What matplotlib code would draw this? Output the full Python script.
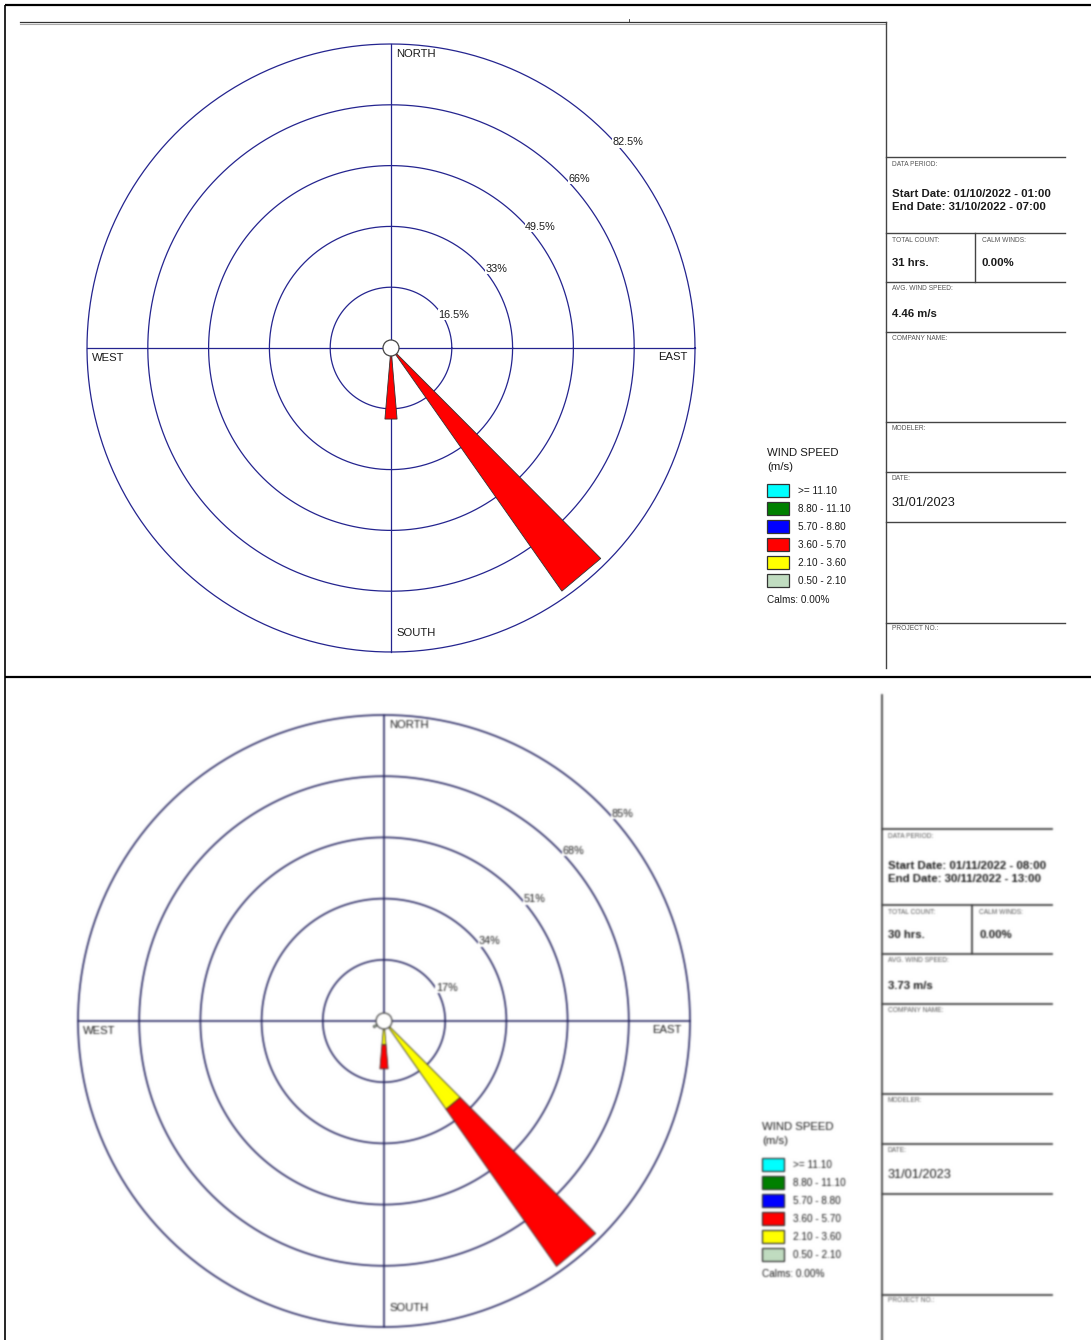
import matplotlib.pyplot as plt
from matplotlib.patches import Rectangle, Circle, Polygon
import numpy as np

plt.rcParams['font.family'] = ['Liberation Sans', 'DejaVu Sans']

W, H = 1091, 1340

# wind speed classes (m/s), highest first as in the legend
speed_labels = ['>= 11.10', '8.80 - 11.10', '5.70 - 8.80', '3.60 - 5.70', '2.10 - 3.60', '0.50 - 2.10']
speed_colors = ['#00FFFF', '#008000', '#0000FF', '#FF0000', '#FFFF00', '#C0DCC0']

# October 2022 - hours per direction (36 sectors, 10 deg each)
oct_dirs = [140, 180]
oct_050_210 = [0, 0]
oct_210_360 = [0, 0]
oct_360_570 = [25, 6]
oct_total = 31
oct_rings = [16.5, 33, 49.5, 66, 82.5]
oct_period = ['Start Date: 01/10/2022 - 01:00', 'End Date: 31/10/2022 - 07:00']
oct_count = '31 hrs.'
oct_calm = '0.00%'
oct_avg = '4.46 m/s'

# November 2022
nov_dirs = [140, 180, 240]
nov_050_210 = [0, 0, 1]
nov_210_360 = [9, 2, 0]
nov_360_570 = [16, 2, 0]
nov_total = 30
nov_rings = [17, 34, 51, 68, 85]
nov_period = ['Start Date: 01/11/2022 - 08:00', 'End Date: 30/11/2022 - 13:00']
nov_count = '30 hrs.'
nov_calm = '0.00%'
nov_avg = '3.73 m/s'

report_date = '31/01/2023'

PX = 0.72  # points per pixel at 100 dpi

fig = plt.figure(figsize=(W / 100, H / 100), dpi=100)
fig.patch.set_facecolor('white')

ov = fig.add_axes([0, 0, 1, 1])
ov.set_xlim(0, W)
ov.set_ylim(H, 0)
ov.axis('off')

# outer table frame
ov.plot([5, W], [5, 5], color='black', lw=1.6, solid_capstyle='butt')
ov.plot([5, 5], [5, H], color='black', lw=1.2, solid_capstyle='butt')
ov.plot([5, W], [677, 677], color='black', lw=1.6, solid_capstyle='butt')
# header rule of the first page
ov.plot([20, 886], [22, 22], color='#333333', lw=0.9)
ov.plot([20, 886], [23.5, 23.5], color='#aaaaaa', lw=0.8)
ov.plot([629, 629], [19, 22], color='#333333', lw=0.6)


def info_panel(x0, xr, xd, dy, ytop, ybot, period, count, calm, avg, lw=1.0):
    ov.plot([x0, x0], [ytop, ybot], color='#444444', lw=lw)
    for y in [157, 233, 282, 332, 422, 472, 522, 623]:
        ov.plot([x0, xr], [y + dy, y + dy], color='#444444', lw=lw)
    ov.plot([xd, xd], [233 + dy, 282 + dy], color='#444444', lw=lw)
    xt = x0 + 6
    xc = xd + 7
    small = dict(fontsize=4.8, color='#555555', va='center', ha='left')
    bold = dict(fontsize=8.2, color='#1a1a1a', va='center', ha='left', fontweight='bold')
    ov.text(xt, 164 + dy, 'DATA PERIOD:', **small)
    ov.text(xt, 194 + dy, period[0], **bold)
    ov.text(xt, 207 + dy, period[1], **bold)
    ov.text(xt, 240 + dy, 'TOTAL COUNT:', **small)
    ov.text(xc, 240 + dy, 'CALM WINDS:', **small)
    ov.text(xt, 263 + dy, count, **bold)
    ov.text(xc, 263 + dy, calm, **bold)
    ov.text(xt, 289 + dy, 'AVG. WIND SPEED:', **small)
    ov.text(xt, 314 + dy, avg, **bold)
    ov.text(xt, 339 + dy, 'COMPANY NAME:', **small)
    ov.text(xt, 429 + dy, 'MODELER:', **small)
    ov.text(xt, 479 + dy, 'DATE:', **small)
    ov.text(xt, 503 + dy, report_date, fontsize=9.2, color='#1a1a1a', va='center', ha='left')
    ov.text(xt, 629 + dy, 'PROJECT NO.:', **small)


def legend(x0, y0, calm):
    ov.text(x0, y0, 'WIND SPEED', fontsize=8.2, color='#1a1a1a', va='center', ha='left')
    ov.text(x0, y0 + 14, '(m/s)', fontsize=8.2, color='#1a1a1a', va='center', ha='left')
    for i, (lab, col) in enumerate(zip(speed_labels, speed_colors)):
        yb = y0 + 31 + i * 18
        ov.add_patch(Rectangle((x0, yb), 22, 13, facecolor=col, edgecolor='#333333', lw=0.9))
        ov.text(x0 + 31, yb + 6.5, lab, fontsize=7.2, color='#1a1a1a', va='center', ha='left')
    ov.text(x0, y0 + 147, 'Calms: ' + calm, fontsize=7.2, color='#1a1a1a', va='center', ha='left')


def rose(cx, cy, rpx, rings, dirs, classes, total, lw=0.9, grid='#24248f'):
    rmax = rings[-1]
    m = 1.06
    ax = fig.add_axes([(cx - rpx * m) / W, 1 - (cy + rpx * m) / H, 2 * rpx * m / W, 2 * rpx * m / H])
    ax.set_xlim(-rmax * m, rmax * m)
    ax.set_ylim(-rmax * m, rmax * m)
    ax.axis('off')
    ax.patch.set_alpha(0)

    th = np.linspace(0, 2 * np.pi, 400)
    for r in rings:
        ax.plot(r * np.cos(th), r * np.sin(th), color=grid, lw=lw, zorder=1)
    ax.plot([-rmax, rmax], [0, 0], color=grid, lw=lw, zorder=1)
    ax.plot([0, 0], [-rmax, rmax], color=grid, lw=lw, zorder=1)

    # ring labels sit on the rings in the NE quadrant
    ang = [28, 37, 39, 42, 41]
    for r, a in zip(rings, ang):
        t = np.radians(a)
        lab = ('%g' % r) + '%'
        ax.annotate(lab, xy=(r * np.cos(t), r * np.sin(t)),
                    xytext=(10 * PX * np.cos(t), 10 * PX * np.sin(t)), textcoords='offset points',
                    ha='center', va='center', fontsize=7.8, color='#1a1a1a', zorder=3,
                    bbox=dict(boxstyle='square,pad=0.05', fc='white', ec='none'))

    lab = dict(fontsize=8.1, color='#1a1a1a', textcoords='offset points', zorder=3)
    ax.annotate('NORTH', xy=(0, rmax), xytext=(5 * PX, -10 * PX), ha='left', va='center', **lab)
    ax.annotate('SOUTH', xy=(0, -rmax), xytext=(5 * PX, 19 * PX), ha='left', va='center', **lab)
    ax.annotate('WEST', xy=(-rmax, 0), xytext=(5 * PX, -10 * PX), ha='left', va='center', **lab)
    ax.annotate('EAST', xy=(rmax, 0), xytext=(-8 * PX, -9 * PX), ha='right', va='center', **lab)

    # petals, stacked from the lowest speed class outwards
    hw = np.radians(4.9)
    cols = [speed_colors[5], speed_colors[4], speed_colors[3]]
    for k, d in enumerate(dirs):
        b = np.radians(d)
        r0 = 0.0
        for hours, col in zip(classes, cols):
            p = hours[k] / total * 100
            if p <= 0:
                continue
            r1 = r0 + p
            pts = [(r0 * np.sin(b - hw), r0 * np.cos(b - hw)),
                   (r0 * np.sin(b + hw), r0 * np.cos(b + hw)),
                   (r1 * np.sin(b + hw), r1 * np.cos(b + hw)),
                   (r1 * np.sin(b - hw), r1 * np.cos(b - hw))]
            ax.add_patch(Polygon(pts, closed=True, facecolor=col, edgecolor='#333333', lw=0.6, zorder=4))
            r0 = r1

    ax.add_patch(Circle((0, 0), 8 / rpx * rmax, facecolor='white', edgecolor='#444444', lw=0.9, zorder=5))
    return ax


rose(391, 348, 304, oct_rings, oct_dirs, [oct_050_210, oct_210_360, oct_360_570], oct_total)
rose(384, 1021, 306, nov_rings, nov_dirs, [nov_050_210, nov_210_360, nov_360_570], nov_total,
     lw=1.2, grid='#2c2c66')

legend(767, 453, oct_calm)
legend(762, 1127, nov_calm)

info_panel(886, 1065, 975, 0, 22, 668, oct_period, oct_count, oct_calm, oct_avg)
info_panel(882, 1052, 972, 672, 695, H, nov_period, nov_count, nov_calm, nov_avg, lw=1.3)

# the second page is a low-resolution scan: soften it with a small gaussian blur
fig.canvas.draw()
img = np.asarray(fig.canvas.buffer_rgba())[:, :, :3].astype(float) / 255
x = np.arange(-3, 4)
k = np.exp(-x ** 2 / (2 * 0.9 ** 2))
k /= k.sum()
part = img[681:, 9:].copy()
pad = np.pad(part, ((3, 3), (3, 3), (0, 0)), mode='edge')
tmp = sum(k[i] * pad[:, i:i + part.shape[1]] for i in range(7))
part = sum(k[i] * tmp[i:i + part.shape[0]] for i in range(7))
img[681:, 9:] = part
plt.imsave('out.png', np.clip(img, 0, 1))
